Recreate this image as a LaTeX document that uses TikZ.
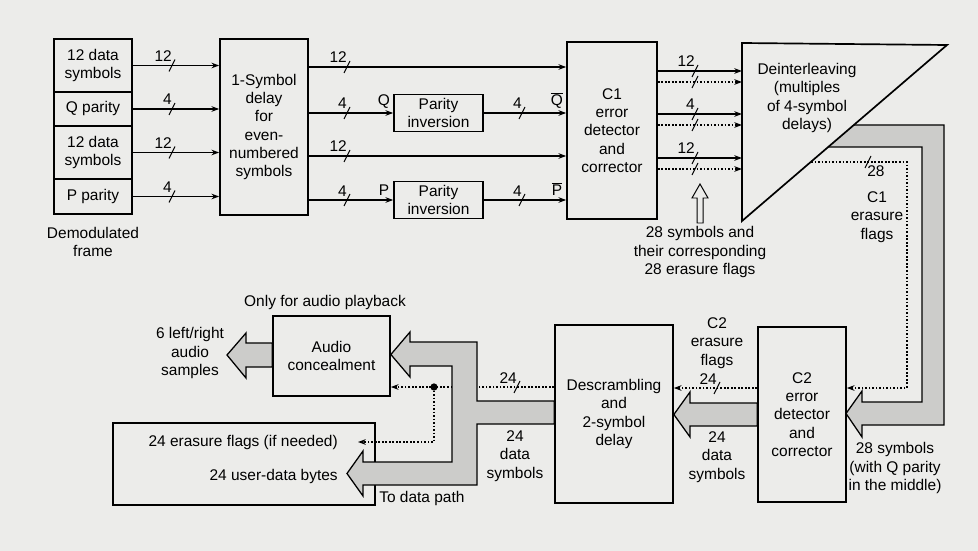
\documentclass[tikz,border=0pt]{standalone}
\usepackage{fontspec}
\setmainfont{Liberation Sans}
\usetikzlibrary{arrows.meta}
\definecolor{paper}{RGB}{236,236,234}
\definecolor{bandfill}{RGB}{204,204,202}

% bus width mark: name, x, y, label
\newcommand{\buswidth}[4]{%
  \draw[buscut] (#2-3,#3+6) -- (#2+3,#3-6);
  \node[wlabel,anchor=base east] (#1) at (#2,#3-4) {#4};}

\begin{document}
\begin{tikzpicture}[x=0.025cm,y=-0.025cm,
  font=\fontsize{11}{13}\selectfont,
  box/.style={draw,line width=1.2pt,align=center,inner sep=0pt},
  txt/.style={align=center,inner sep=0pt},
  wlabel/.style={inner sep=0pt},
  bus/.style={line width=0.9pt,-{Stealth[length=5.5pt,width=4pt]}},
  flag/.style={line width=0.8pt,dash pattern=on 1.2pt off 1.3pt,-{Stealth[length=5.5pt,width=4pt]}},
  buscut/.style={line width=0.7pt},
  band/.style={draw,line width=0.9pt,fill=bandfill,line join=miter}]
  \useasboundingbox[fill=paper] (0,0) rectangle (978,551);

  % Demodulated frame and the symbol delay.
  \node[box,minimum width=19.5mm,minimum height=13.25mm] (f1) at (93,65.5) {12 data\\symbols};
  \node[box,minimum width=19.5mm,minimum height=8.5mm] (f2) at (93,109) {Q parity};
  \node[box,minimum width=19.5mm,minimum height=13.25mm] (f3) at (93,152.5) {12 data\\symbols};
  \node[box,minimum width=19.5mm,minimum height=8.75mm] (f4) at (93,196.5) {P parity};
  \node[txt] (frametxt) at (93,242) {Demodulated\\frame};
  \node[box,minimum width=22mm,minimum height=44mm] (delay) at (264,127)
    {1-Symbol\\delay\\for\\even-\\numbered\\symbols};
  \foreach \n/\y/\w in {1/65.5/12,2/109/4,3/152.5/12,4/196.5/4}{
    \draw[bus] (f\n.east) -- (delay.west |- f\n.east);
    \buswidth{fw\n}{172}{\y}{\w}
  }

  % Parity inversion and the C1 decoder.
  \node[box,minimum width=22.25mm,minimum height=9.25mm] (qinv) at (438.5,113) {Parity\\inversion};
  \node[box,minimum width=22.25mm,minimum height=9.25mm] (pinv) at (438.5,200) {Parity\\inversion};
  \node[box,minimum width=22.5mm,minimum height=44.25mm] (c1) at (612,130.5)
    {C1\\error\\detector\\and\\corrector};
  \draw[bus] (delay.east |- 0,67) -- (c1.west |- 0,67);
  \draw[bus] (delay.east |- qinv.west) -- (qinv.west);
  \draw[bus] (qinv.east) -- (c1.west |- qinv.east);
  \draw[bus] (delay.east |- 0,156) -- (c1.west |- 0,156);
  \draw[bus] (delay.east |- pinv.west) -- (pinv.west);
  \draw[bus] (pinv.east) -- (c1.west |- pinv.east);
  \foreach \n/\y/\w in {1/67/12,2/113/4,3/156/12,4/200/4}{
    \buswidth{dw\n}{347}{\y}{\w}
  }
  \buswidth{qw}{522}{113}{4}
  \buswidth{pw}{522}{200}{4}
  \node[wlabel,anchor=south] (qlab) at (384,109) {Q};
  \node[wlabel,anchor=south] (plab) at (384,196) {P};
  \node[wlabel,anchor=south] (qbar) at (557,109) {$\overline{\mbox{Q}}$};
  \node[wlabel,anchor=south] (pbar) at (557,196) {$\overline{\mbox{P}}$};

  % C1 erasure flags band down to C2.
  \draw[band] (800,125) -- (944,125) -- (944,425) -- (862,425) -- (862,437)
    -- (846,413.5) -- (862,391) -- (862,402) -- (922,402) -- (922,147)
    -- (800,147) -- cycle;
  \node[box,minimum width=22mm,minimum height=43.75mm] (c2) at (802,414.5)
    {C2\\error\\detector\\and\\corrector};
  \draw[flag] (790,162) -- (907,162) -- (907,388) -- (c2.east |- 0,388);
  \draw[buscut] (865,168) -- (871,156);
  \node[wlabel,anchor=north west] (w28) at (867,165) {28};
  \node[txt] (c1flags) at (877,217) {C1\\erasure\\flags};
  \node[txt] (c2in) at (895,468) {28 symbols\\(with Q parity\\in the middle)};

  % Deinterleaver fed by symbols and flags.
  \coordinate (dtl) at (742,43);
  \coordinate (dtr) at (947,45);
  \coordinate (dbl) at (742,221);
  \draw[line width=1.2pt,fill=paper,line join=miter] (dtl) -- (dtr) -- (dbl) -- cycle;
  \node[txt] (deinttxt) at (807,98) {Deinterleaving\\(multiples\\of 4-symbol\\delays)};
  \foreach \y/\w in {71/12,114/4,158/12}{
    \draw[bus] (c1.east |- 0,\y) -- (dtl |- 0,\y);
    \draw[flag] (c1.east |- 0,\y+11) -- (dtl |- 0,\y+11);
    \buswidth{cw\y}{695}{\y}{\w}
    \draw[buscut] (695-3,\y+17) -- (695+3,\y+5);
  }
  \draw[line width=0.7pt,fill=paper] (697,223) -- (697,198) -- (692,198) -- (700,184)
    -- (708,198) -- (703,198) -- (703,223) -- cycle;
  \node[txt] (c1out) at (700,252) {28 symbols and\\their corresponding\\28 erasure flags};

  % C2 to descrambling.
  \node[box,minimum width=29.5mm,minimum height=44.5mm] (desc) at (614,414)
    {Descrambling\\and\\2-symbol\\delay};
  \draw[band] (c2.west |- 0,403) -- (690,403) -- (690,392) -- (desc.east |- 0,414.5)
    -- (690,437) -- (690,426) -- (c2.west |- 0,426) -- cycle;
  \draw[flag] (c2.west |- 0,388) -- (desc.east |- 0,388);
  \buswidth{c2w}{717}{388}{24}
  \node[txt] (c2flags) at (717,343) {C2\\erasure\\flags};
  \node[txt] (c2data) at (717,457) {24\\data\\symbols};

  % Outputs: audio concealment and data path.
  \node[box,minimum width=29.25mm,minimum height=20mm] (audio) at (331.5,356) {Audio\\concealment};
  \node[txt] (audiotxt) at (325,302) {Only for audio playback};
  \node[box,minimum width=65.5mm,minimum height=20.5mm] (dpath) at (244,464) {};
  \node[wlabel,anchor=east] (flagsout) at (338,442) {24 erasure flags (if needed)};
  \node[wlabel,anchor=east] (bytesout) at (338,476) {24 user-data bytes};
  \node[wlabel,anchor=west] (topath) at (379,498) {To data path};
  \coordinate (jn) at (434,387);
  \draw[flag] (desc.west |- 0,387) -- (audio.east |- 0,387);
  \draw[flag] (jn) |- ([xshift=5mm]flagsout.east);
  \fill (jn) circle (2.6pt);
  \buswidth{dw24}{517}{387}{24}
  \draw[band] (desc.west |- 0,401) -- (477,401) -- (477,342) -- (410,342) -- (410,332)
    -- (audio.east |- 0,354.5) -- (410,377) -- (410,366) -- (452,366) -- (452,462)
    -- (363,462) -- (363,451) -- (347,473.5) -- (363,496) -- (363,485) -- (477,485)
    -- (477,424) -- (desc.west |- 0,424) -- cycle;
  \draw[band] (audio.west |- 0,343) -- (246,343) -- (246,333) -- (227,355) -- (246,378)
    -- (246,367) -- (audio.west |- 0,367) -- cycle;
  \node[txt] (samples) at (190,353) {6 left/right\\audio\\samples};
  \node[txt] (descdata) at (515,456) {24\\data\\symbols};
\end{tikzpicture}
\end{document}
